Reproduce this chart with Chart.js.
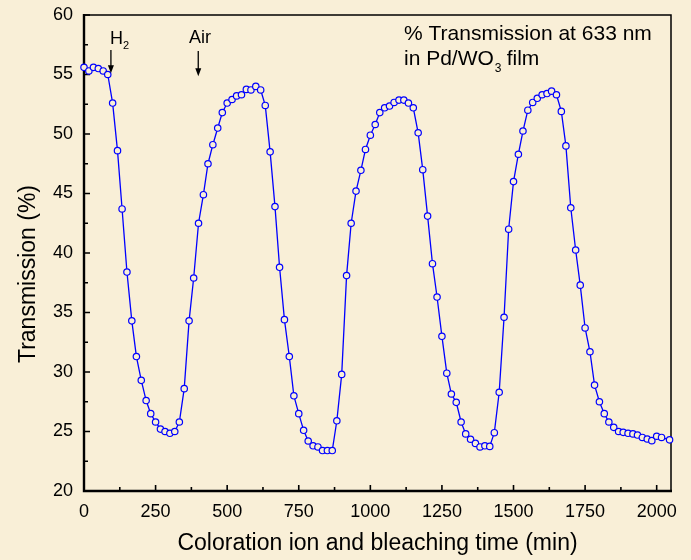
<!DOCTYPE html>
<html>
<head>
<meta charset="utf-8">
<script src="https://cdn.jsdelivr.net/npm/chart.js@4.4.0/dist/chart.umd.min.js"></script>
<style>
  html, body { margin: 0; padding: 0; background: #f8eed6; }
  #c { display: block; }
</style>
</head>
<body>
<canvas id="c" width="691" height="560"></canvas>
<script>
  // Datos (tiempo en min, transmisión en %)
  const times = [
    0, 17, 33, 50, 67, 83, 100, 117, 133, 150,
    167, 183, 200, 217, 233, 250, 267, 283, 300, 317,
    333, 350, 367, 383, 400, 417, 433, 450, 467, 483,
    500, 517, 533, 550, 567, 583, 600, 617, 633, 650,
    667, 683, 700, 717, 733, 750, 767, 783, 800, 817,
    833, 850, 867, 883, 900, 917, 933, 950, 967, 983,
    1000, 1017, 1033, 1050, 1067, 1083, 1100, 1117, 1133, 1150,
    1167, 1183, 1200, 1217, 1233, 1250, 1267, 1283, 1300, 1317,
    1333, 1350, 1367, 1383, 1400, 1417, 1433, 1450, 1467, 1483,
    1500, 1517, 1533, 1550, 1567, 1583, 1600, 1617, 1633, 1650,
    1667, 1683, 1700, 1717, 1733, 1750, 1767, 1783, 1800, 1817,
    1833, 1850, 1867, 1883, 1900, 1917, 1933, 1950, 1967, 1983,
    2000, 2017, 2045
  ];
  const transmission = [
    55.6, 55.3, 55.6, 55.5, 55.3, 55.0, 52.6, 48.6, 43.7, 38.4,
    34.3, 31.3, 29.3, 27.6, 26.5, 25.8, 25.2, 25.0, 24.85, 25.0,
    25.8, 28.6, 34.3, 37.9, 42.5, 44.9, 47.5, 49.1, 50.5, 51.8,
    52.6, 52.9, 53.2, 53.3, 53.75, 53.7, 54.0, 53.7, 52.4, 48.5,
    43.9, 38.8, 34.4, 31.3, 28.0, 26.5, 25.1, 24.2, 23.8, 23.7,
    23.4, 23.4, 23.4, 25.9, 29.8, 38.1, 42.5, 45.2, 46.95, 48.7,
    49.9, 50.8, 51.8, 52.2, 52.35, 52.65, 52.85, 52.85, 52.6, 52.2,
    50.1, 47.0, 43.1, 39.1, 36.3, 33.0, 29.9, 28.15, 27.45, 25.8,
    24.8, 24.35, 24.0, 23.7, 23.8, 23.75, 24.9, 28.3, 34.6, 42.0,
    46.0, 48.3, 50.25, 52.0, 52.65, 53.0, 53.3, 53.4, 53.6, 53.3,
    51.9, 49.0, 43.8, 40.25, 37.3, 33.7, 31.7, 28.9, 27.5, 26.5,
    25.8, 25.35, 25.0, 24.93, 24.85, 24.8, 24.7, 24.5, 24.37, 24.23,
    24.6, 24.5, 24.3
  ];
  const xTicks = [0, 250, 500, 750, 1000, 1250, 1500, 1750, 2000];
  const xMinor = [125, 375, 625, 875, 1125, 1375, 1625, 1875];
  const yTicks = [20, 25, 30, 35, 40, 45, 50, 55, 60];
  const yMinor = [22.5, 27.5, 32.5, 37.5, 42.5, 47.5, 52.5, 57.5];

  const bgColor = '#f9efd7';
  const fontFamily = '"Liberation Sans", Arial, sans-serif';

  // Fondo, marco y marcas hacia dentro
  const framePlugin = {
    id: 'frame',
    beforeDraw(chart) {
      const ctx = chart.ctx;
      ctx.save();
      ctx.fillStyle = bgColor;
      ctx.fillRect(0, 0, chart.width, chart.height);
      ctx.restore();
    },
    beforeDatasetsDraw(chart) {
      const { ctx, chartArea: a, scales: { x, y } } = chart;
      ctx.save();
      ctx.strokeStyle = '#000';
      ctx.lineWidth = 1.6;
      ctx.beginPath();
      xTicks.forEach(v => { const p = x.getPixelForValue(v); ctx.moveTo(p, a.bottom); ctx.lineTo(p, a.bottom - 6); });
      xMinor.forEach(v => { const p = x.getPixelForValue(v); ctx.moveTo(p, a.bottom); ctx.lineTo(p, a.bottom - 4); });
      yTicks.forEach(v => { const p = y.getPixelForValue(v); ctx.moveTo(a.left, p); ctx.lineTo(a.left + 6, p); });
      yMinor.forEach(v => { const p = y.getPixelForValue(v); ctx.moveTo(a.left, p); ctx.lineTo(a.left + 4, p); });
      ctx.stroke();

      ctx.lineWidth = 1.5;
      ctx.beginPath();
      ctx.moveTo(a.left, a.top);
      ctx.lineTo(a.right, a.top);
      ctx.lineTo(a.right, a.bottom);
      ctx.stroke();

      ctx.lineWidth = 2.4;
      ctx.beginPath();
      ctx.moveTo(a.left, a.top - 1);
      ctx.lineTo(a.left, a.bottom);
      ctx.lineTo(a.right + 1, a.bottom);
      ctx.stroke();
      ctx.restore();
    },
    afterDraw(chart) {
      const { ctx, scales: { x, y } } = chart;
      ctx.save();
      ctx.fillStyle = '#000';
      ctx.strokeStyle = '#000';

      // título del eje y
      ctx.save();
      ctx.translate(29, 274);
      ctx.rotate(-Math.PI / 2);
      ctx.font = '23px ' + fontFamily;
      ctx.textAlign = 'center';
      ctx.textBaseline = 'middle';
      ctx.fillText('Transmission (%)', 0, 0);
      ctx.restore();

      // flechas H2 / Air
      const arrow = (t, top, tip) => {
        const px = x.getPixelForValue(t);
        const y0 = y.getPixelForValue(top), y1 = y.getPixelForValue(tip);
        ctx.lineWidth = 1.3;
        ctx.beginPath();
        ctx.moveTo(px, y0);
        ctx.lineTo(px, y1 - 6);
        ctx.stroke();
        ctx.beginPath();
        ctx.moveTo(px - 3, y1 - 8);
        ctx.lineTo(px + 3, y1 - 8);
        ctx.lineTo(px, y1);
        ctx.closePath();
        ctx.fill();
      };
      arrow(94, 57.05, 55.1);
      arrow(399, 56.97, 54.85);

      ctx.textAlign = 'left';
      ctx.textBaseline = 'alphabetic';
      ctx.font = '18px ' + fontFamily;
      ctx.fillText('H', 110, 43.5);
      ctx.font = '11px ' + fontFamily;
      ctx.fillText('2', 123, 49);
      ctx.font = '18px ' + fontFamily;
      ctx.fillText('Air', 189, 42.5);

      ctx.font = '21px ' + fontFamily;
      ctx.fillText('% Transmission at 633 nm', 404, 39.5);
      const l2 = 'in Pd/WO';
      ctx.fillText(l2, 404, 64.5);
      const w2 = ctx.measureText(l2).width;
      ctx.font = '12px ' + fontFamily;
      ctx.fillText('3', 404 + w2 + 1, 71.5);
      ctx.font = '21px ' + fontFamily;
      ctx.fillText(' film', 404 + w2 + 7, 64.5);
      ctx.restore();
    }
  };

  const ctx = document.getElementById('c').getContext('2d');
  const chart = new Chart(ctx, {
    type: 'line',
    data: {
      datasets: [{
        label: 'Transmission',
        data: times.map((t, i) => ({ x: t, y: transmission[i] })),
        borderColor: '#0000ff',
        borderWidth: 1.3,
        pointRadius: 3.2,
        pointBorderWidth: 1.2,
        pointBorderColor: '#0000ff',
        pointBackgroundColor: bgColor,
        pointHoverRadius: 3.2,
        tension: 0,
        fill: false,
        clip: false
      }]
    },
    options: {
      responsive: false,
      animation: false,
      devicePixelRatio: 1,
      layout: { padding: { top: 15, right: 20, left: 0, bottom: 0 } },
      plugins: {
        legend: { display: false },
        tooltip: { enabled: false }
      },
      scales: {
        x: {
          type: 'linear',
          min: 0,
          max: 2050,
          afterBuildTicks: s => { s.ticks = xTicks.map(v => ({ value: v })); },
          afterFit: s => { s.height = 69; s.paddingLeft = 0; s.paddingRight = 0; },
          grid: { display: false, drawTicks: false },
          border: { display: false },
          ticks: {
            color: '#000',
            padding: 10,
            maxRotation: 0,
            autoSkip: false,
            callback: v => String(v),
            font: { family: fontFamily, size: 18 }
          },
          title: {
            display: true,
            text: 'Coloration ion and bleaching time (min)',
            color: '#000',
            padding: { top: 0, bottom: 3 },
            font: { family: fontFamily, size: 23 }
          }
        },
        y: {
          min: 20,
          max: 60,
          afterBuildTicks: s => { s.ticks = yTicks.map(v => ({ value: v })); },
          afterFit: s => { s.width = 84; s.paddingTop = 0; s.paddingBottom = 0; },
          grid: { display: false, drawTicks: false },
          border: { display: false },
          ticks: {
            color: '#000',
            padding: 11,
            autoSkip: false,
            callback: v => String(v),
            font: { family: fontFamily, size: 18 }
          }
        }
      }
    },
    plugins: [framePlugin]
  });
</script>
</body>
</html>
